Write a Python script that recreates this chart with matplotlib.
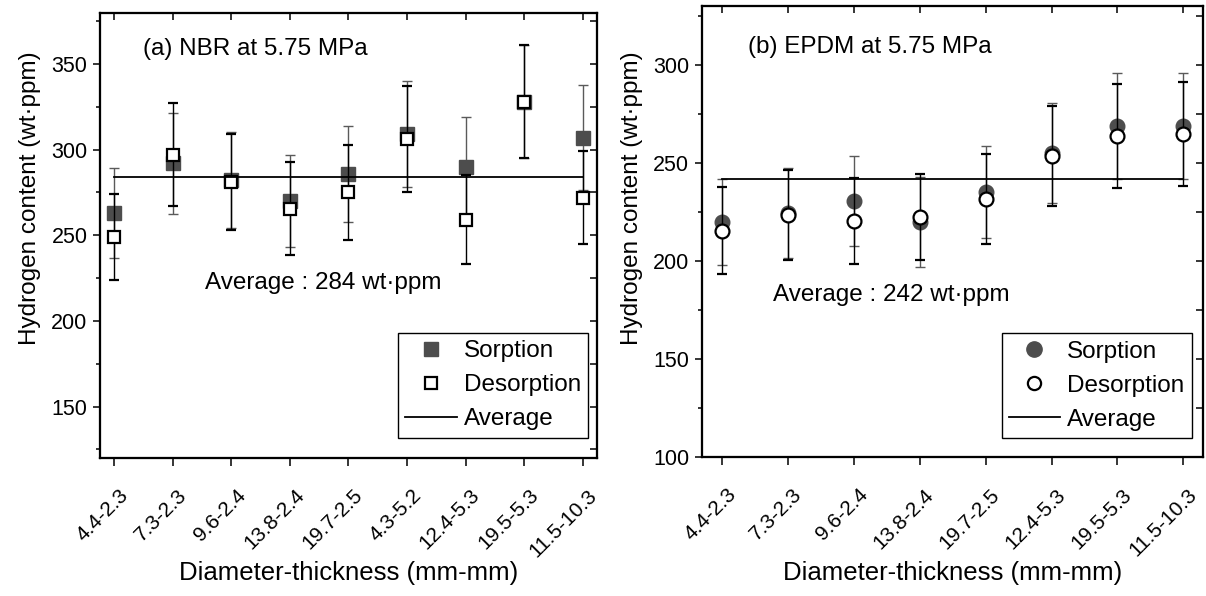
import numpy as np
import matplotlib
matplotlib.use("Agg")
import matplotlib.pyplot as plt
import matplotlib.transforms as mtransforms
from matplotlib.lines import Line2D
from matplotlib.ticker import MultipleLocator

plt.rcParams['font.family'] = ['Liberation Sans', 'DejaVu Sans']

# ---- data ----
nbr_sizes = ['4.4-2.3', '7.3-2.3', '9.6-2.4', '13.8-2.4', '19.7-2.5',
             '4.3-5.2', '12.4-5.3', '19.5-5.3', '11.5-10.3']
nbr_sorption = [263, 292, 282, 270, 286, 309, 290, 328, 307]
nbr_sorption_err = [26, 29.5, 28, 27, 28, 31, 29, 33, 30.5]
nbr_desorption = [249, 297, 281, 265.5, 275, 306, 259, 328, 272]
nbr_desorption_err = [25, 30, 28, 27, 27.5, 31, 26, 33, 27]
nbr_average = 284

epdm_sizes = ['4.4-2.3', '7.3-2.3', '9.6-2.4', '13.8-2.4', '19.7-2.5',
              '12.4-5.3', '19.5-5.3', '11.5-10.3']
epdm_sorption = [220, 224.5, 230.5, 220, 235, 255, 269, 269]
epdm_sorption_err = [22, 23, 23, 23, 23.5, 25.5, 27, 27]
epdm_desorption = [215.5, 223.5, 220.5, 222.5, 231.5, 253.5, 263.5, 264.5]
epdm_desorption_err = [22, 23, 22, 22, 23, 25.5, 26.5, 26.5]
epdm_average = 242

FILL = '#4d4d4d'
ERR_GREY = '#5a5a5a'


def style_axes(fig, ax, labels, xlim, ylim, ymajor):
    n = len(labels)
    ax.set_xlim(*xlim)
    ax.set_ylim(*ylim)
    ax.set_xticks(range(n))
    ax.set_xticklabels(labels, rotation=45, ha='right', va='baseline',
                       rotation_mode='anchor', fontsize=15)
    ax.yaxis.set_major_locator(MultipleLocator(ymajor))
    ax.yaxis.set_minor_locator(MultipleLocator(ymajor / 2))
    ax.tick_params(axis='y', which='major', direction='out', length=5, width=1.1,
                   labelsize=15.5, pad=4)
    ax.tick_params(axis='y', which='minor', direction='out', length=3, width=1.1)
    ax.tick_params(axis='x', which='major', direction='out', length=6, width=1.1,
                   pad=21.5)
    shift = mtransforms.ScaledTranslation(0.15, 0, fig.dpi_scale_trans)
    for lab in ax.get_xticklabels():
        lab.set_transform(lab.get_transform() + shift)
    for sp in ax.spines.values():
        sp.set_linewidth(1.5)

    # mirrored ticks pointing inward on the right and top
    axr = ax.twinx()
    axr.set_ylim(*ylim)
    axr.yaxis.set_major_locator(MultipleLocator(ymajor))
    axr.yaxis.set_minor_locator(MultipleLocator(ymajor / 2))
    axr.tick_params(axis='y', which='both', direction='in', length=5, width=1.1,
                    labelright=False)
    axt = ax.twiny()
    axt.set_xlim(*xlim)
    axt.set_xticks(range(n))
    axt.tick_params(axis='x', direction='in', length=5, width=1.1, labeltop=False)
    for a in (axr, axt):
        for sp in a.spines.values():
            sp.set_linewidth(1.5)


def draw_panel(fig, ax, labels, sorp, sorp_err, desorp, desorp_err, avg, marker, ms):
    x = np.arange(len(labels))
    ax.errorbar(x, sorp, yerr=sorp_err, fmt=marker, color=FILL, ecolor=ERR_GREY,
                markersize=ms, elinewidth=1.0, capsize=3.5, capthick=1.0, zorder=2)
    ax.errorbar(x, desorp, yerr=desorp_err, fmt=marker, mfc='white', mec='black',
                mew=1.6, ecolor='black', markersize=ms - 0.5, elinewidth=1.0,
                capsize=3.5, capthick=1.0, zorder=3)
    ax.plot([x[0], x[-1]], [avg, avg], color='black', lw=1.3, zorder=4)


fig = plt.figure(figsize=(12.06, 5.96), dpi=100)
ax1 = fig.add_axes([0.0829, 0.2315, 0.4121, 0.7475])
ax2 = fig.add_axes([0.5818, 0.2324, 0.4159, 0.7580])

draw_panel(fig, ax1, nbr_sizes, nbr_sorption, nbr_sorption_err,
           nbr_desorption, nbr_desorption_err, nbr_average, 's', 9.5)
draw_panel(fig, ax2, epdm_sizes, epdm_sorption, epdm_sorption_err,
           epdm_desorption, epdm_desorption_err, epdm_average, 'o', 10.5)

ax1.text(0.0865, 0.919, '(a) NBR at 5.75 MPa', transform=ax1.transAxes,
         fontsize=17.5, va='center', ha='left')
ax1.text(0.211, 0.392, 'Average : %d wt\u00b7ppm' % nbr_average, transform=ax1.transAxes,
         fontsize=17.5, va='center', ha='left')
ax2.text(0.093, 0.909, '(b) EPDM at 5.75 MPa', transform=ax2.transAxes,
         fontsize=17.5, va='center', ha='left')
ax2.text(0.143, 0.36, 'Average : %d wt\u00b7ppm' % epdm_average, transform=ax2.transAxes,
         fontsize=17.5, va='center', ha='left')

for ax, mk, ms, anchor in ((ax1, 's', 10.5, (0.600, 0.281)), (ax2, 'o', 11, (0.598, 0.275))):
    handles = [
        Line2D([], [], ls='none', marker=mk, color=FILL, markersize=ms),
        Line2D([], [], ls='none', marker=mk, mfc='white', mec='black', mew=1.6,
               markersize=ms - 1.5),
        Line2D([], [], color='black', lw=1.3),
    ]
    leg = ax.legend(handles, ['Sorption', 'Desorption', 'Average'], loc='upper left',
                    bbox_to_anchor=anchor, borderaxespad=0, fontsize=17.5,
                    frameon=True, fancybox=False, framealpha=1, edgecolor='black',
                    handlelength=2.1, handletextpad=0.3, borderpad=0.3,
                    labelspacing=0.5)
    leg.get_frame().set_linewidth(1.0)
    leg.set_zorder(10)

ax1.set_ylabel('Hydrogen content (wt\u00b7ppm)', fontsize=17.5)
ax1.yaxis.set_label_coords(-0.118, 0.584)
ax2.set_ylabel('Hydrogen content (wt\u00b7ppm)', fontsize=17.5)
ax2.yaxis.set_label_coords(-0.116, 0.574)
ax1.set_xlabel('Diameter-thickness (mm-mm)', fontsize=18.5, va='baseline')
ax1.xaxis.set_label_coords(0.5, -0.2738)
ax2.set_xlabel('Diameter-thickness (mm-mm)', fontsize=18.5, va='baseline')
ax2.xaxis.set_label_coords(0.5, -0.271)

style_axes(fig, ax1, nbr_sizes, (-0.244, 8.244), (120, 380), 50)
style_axes(fig, ax2, epdm_sizes, (-0.313, 7.304), (100, 330), 50)

# keep the legend above the twin axes
for ax in (ax1, ax2):
    ax.set_zorder(3)
    ax.patch.set_visible(False)

fig.savefig('out.png', dpi=100, facecolor='white')
